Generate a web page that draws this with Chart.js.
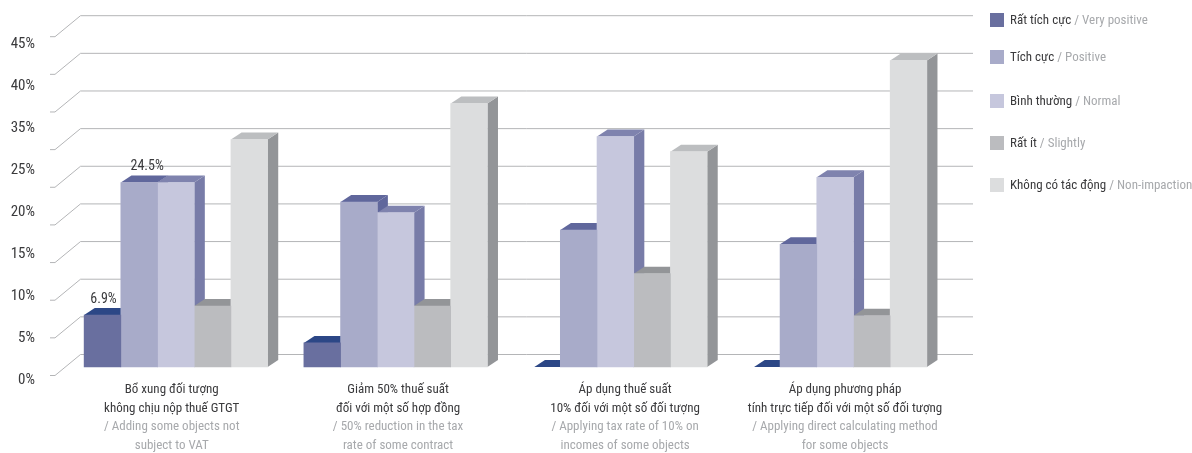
<!DOCTYPE html>
<html lang="vi">
<head>
<meta charset="utf-8">
<title>Tác động của chính sách thuế GTGT</title>
<script src="https://cdn.jsdelivr.net/npm/chart.js@4"></script>
<style>
  html, body { margin: 0; padding: 0; background: #fff; }
  #wrap { width: 1192px; height: 453px; }
</style>
</head>
<body>
<div id="wrap"><canvas id="vatChart" width="1192" height="453"></canvas></div>
<script>
const categoryLabels = ['g1', 'g2', 'g3', 'g4'];
const categoriesVi = [
  ['Bổ xung đối tượng', 'không chịu nộp thuế GTGT'],
  ['Giảm 50% thuế suất', 'đối với một số hợp đồng'],
  ['Áp dụng thuế suất', '10% đối với một số đối tượng'],
  ['Áp dụng phương pháp', 'tính trực tiếp đối với một số đối tượng']
];
const categoriesEn = [
  ['/ Adding some objects not', 'subject to VAT'],
  ['/ 50% reduction in the tax', 'rate of some contract'],
  ['/ Applying tax rate of 10% on', 'incomes of some objects'],
  ['/ Applying direct calculating method', 'for some objects']
];

const seriesVi = ['Rất tích cực', 'Tích cực', 'Bình thường', 'Rất ít', 'Không có tác động'];
const seriesEn = ['Very positive', 'Positive', 'Normal', 'Slightly', 'Non-impaction'];

const veryPositive = [6.9, 3.2, 0, 0];
const positive = [24.5, 21.9, 18.2, 16.3];
const normal = [24.5, 20.5, 30.6, 25.2];
const slightly = [8.1, 8.1, 12.4, 6.8];
const noImpact = [30.2, 35, 28.6, 40.7];

const yTickLabels = ['45%', '40%', '35%', '25%', '20%', '15%', '10%', '5%', '0%'];
const gridValues = [0, 5, 10, 15, 20, 25, 30, 35, 40, 45];

const seriesValues = [veryPositive, positive, normal, slightly, noImpact];

const FONT = '"Roboto Condensed", "DejaVu Sans Condensed", sans-serif';
const TEXT_DARK = '#3a3a3c';
const TEXT_GREY = '#a7a9ac';

// front, top and side colours of each series
const faces = [
  { front: '#696f9f', top: '#2c4786', side: '#2c4786' },
  { front: '#a8abc9', top: '#60679c', side: '#60679c' },
  { front: '#c6c7dd', top: '#7f83ae', side: '#787ca8' },
  { front: '#bbbcbf', top: '#939598', side: '#939598' },
  { front: '#dcddde', top: '#bcbec0', side: '#939598' }
];

const BAR_DX = 10.6;
const BAR_DY = 7;
const WALL_DY = 12.5;
const WALL_LEFT = 80.5;
const WALL_RIGHT = 973;

// the label blocks sit slightly off their group centres
const labelShift = [-0.019, 0.011, 0.044, 0.045];

function poly(ctx, points, color) {
  ctx.fillStyle = color;
  ctx.beginPath();
  points.forEach((p, i) => (i ? ctx.lineTo(p[0], p[1]) : ctx.moveTo(p[0], p[1])));
  ctx.closePath();
  ctx.fill();
}

// back wall lines plus the short slanted run towards the axis labels
function drawWall(chart) {
  const { ctx, scales } = chart;
  ctx.save();
  ctx.strokeStyle = '#b4b5b7';
  ctx.lineWidth = 1;
  gridValues.forEach(v => {
    const y = scales.y.getPixelForValue(v) - WALL_DY;
    ctx.beginPath();
    ctx.moveTo(50, y + 21);
    ctx.lineTo(55, y + 21);
    ctx.lineTo(WALL_LEFT, y);
    ctx.lineTo(WALL_RIGHT, y);
    ctx.stroke();
  });
  ctx.restore();
}

// top and side faces go down first, the library then paints the fronts over them
function drawBarDepth(chart) {
  const { ctx } = chart;
  ctx.save();
  seriesValues.forEach((values, s) => {
    const face = faces[s];
    chart.getDatasetMeta(s).data.forEach((bar, i) => {
      const right = bar.x + bar.width / 2;
      // a zero value only leaves a shortened cap on the floor
      const left = bar.x - bar.width / 2 + (values[i] === 0 ? 10.7 : 0);
      poly(ctx, [[right, bar.y], [right + BAR_DX, bar.y - BAR_DY], [right + BAR_DX, bar.base - BAR_DY], [right, bar.base]], face.side);
      poly(ctx, [[left, bar.y], [left + BAR_DX, bar.y - BAR_DY], [right + BAR_DX, bar.y - BAR_DY], [right, bar.y]], face.top);
    });
  });
  ctx.restore();
}

const chartBackdrop = {
  id: 'chartBackdrop',
  beforeDatasetsDraw(chart) {
    drawWall(chart);
    drawBarDepth(chart);
  }
};

const valueLabels = {
  id: 'valueLabels',
  afterDatasetsDraw(chart) {
    const { ctx } = chart;
    ctx.save();
    ctx.font = `14px ${FONT}`;
    ctx.fillStyle = TEXT_DARK;
    ctx.textAlign = 'center';
    ctx.textBaseline = 'middle';
    [[0, 1], [1, 8]].forEach(([series, shift]) => {
      const bar = chart.getDatasetMeta(series).data[0];
      ctx.fillText(`${seriesValues[series][0]}%`, bar.x + shift, bar.y - 16);
    });
    ctx.restore();
  }
};

const sideLegend = {
  id: 'sideLegend',
  afterDraw(chart) {
    const { ctx } = chart;
    const rows = [20, 57, 101, 143, 185];
    ctx.save();
    ctx.font = `13px ${FONT}`;
    ctx.textBaseline = 'middle';
    ctx.textAlign = 'left';
    seriesVi.forEach((name, i) => {
      ctx.fillStyle = faces[i].front;
      ctx.fillRect(990, rows[i] - 7, 14, 14);
      ctx.fillStyle = TEXT_DARK;
      ctx.fillText(name, 1010, rows[i] + 1);
      const w = ctx.measureText(name + ' ').width;
      ctx.fillStyle = TEXT_GREY;
      ctx.fillText(`/ ${seriesEn[i]}`, 1010 + w, rows[i] + 1);
    });
    ctx.restore();
  }
};

function labelAxis(lines, color, height, padding) {
  return {
    type: 'linear',
    position: 'bottom',
    offset: false,
    min: -0.5,
    max: 3.5,
    grid: { display: false, drawTicks: false },
    border: { display: false },
    afterBuildTicks: axis => { axis.ticks = labelShift.map((shift, i) => ({ value: i + shift })); },
    afterFit: axis => { axis.height = height; },
    ticks: {
      autoSkip: false,
      maxRotation: 0,
      padding,
      color,
      font: { family: FONT, size: 13, lineHeight: 1.48 },
      callback: (value, index) => lines[index]
    }
  };
}

const datasets = seriesVi.map((name, i) => ({
  label: name,
  data: seriesValues[i],
  // no front face for zero values, just the cap
  backgroundColor: seriesValues[i].map(v => (v === 0 ? 'transparent' : faces[i].front)),
  barThickness: 36.7,
  yAxisID: 'y',
  xAxisID: 'x'
}));

new Chart(document.getElementById('vatChart'), {
  type: 'bar',
  data: { labels: categoryLabels, datasets },
  plugins: [chartBackdrop, valueLabels, sideLegend],
  options: {
    responsive: false,
    animation: false,
    layout: { padding: { top: 44, right: 247, bottom: 0, left: 0 } },
    plugins: { legend: { display: false }, tooltip: { enabled: false } },
    scales: {
      x: {
        display: false,
        grid: { display: false }
      },
      xVi: labelAxis(categoriesVi, TEXT_DARK, 37, 0),
      xEn: labelAxis(categoriesEn, TEXT_GREY, 36, 0),
      y: {
        display: false,
        min: -1.726,
        max: 42.9
      },
      yLabels: {
        type: 'category',
        position: 'left',
        labels: yTickLabels,
        offset: false,
        grid: { display: false, drawTicks: false },
        border: { display: false },
        afterFit: axis => { axis.width = 66; },
        ticks: {
          autoSkip: false,
          padding: 31,
          color: TEXT_DARK,
          font: { family: FONT, size: 15 }
        }
      }
    }
  }
});
</script>
</body>
</html>
